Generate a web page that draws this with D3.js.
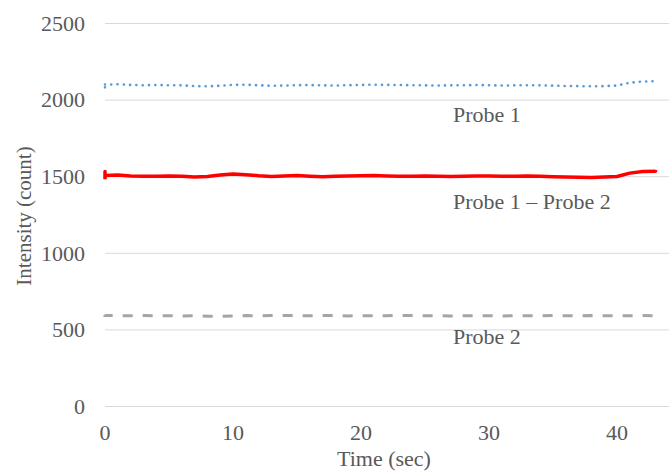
<!DOCTYPE html>
<html><head><meta charset="utf-8">
<script src="https://cdn.jsdelivr.net/npm/d3@7"></script>
<style>body{margin:0;background:#fff}</style>
</head><body><svg id="c" width="669" height="471"></svg>
<script>
const time = [0,0,0,1,2,3,4,5,6,7,8,9,10,11,12,13,14,15,16,17,18,19,20,21,22,23,24,25,26,27,28,29,30,31,32,33,34,35,36,37,38,39,40,41,42,43,43];
const probe1 = [2080,2110,2098,2100,2096,2094,2095,2094,2093,2088,2087,2090,2096,2097,2094,2090,2092,2094,2095,2093,2092,2094,2096,2097,2096,2095,2094,2093,2092,2093,2094,2095,2094,2092,2093,2094,2093,2091,2089,2088,2087,2088,2092,2110,2118,2120,2105];
const diff = [1480,1530,1505,1508,1502,1499,1500,1502,1500,1494,1498,1508,1515,1510,1503,1498,1502,1505,1500,1496,1499,1502,1503,1504,1502,1500,1499,1501,1500,1498,1500,1502,1501,1499,1500,1501,1499,1497,1495,1493,1492,1495,1498,1520,1530,1533,1540];
const probe2 = [585,595,590,590,589,590,588,589,588,590,586,585,588,590,589,590,591,590,589,591,590,588,589,590,589,591,590,589,590,588,589,590,589,587,590,589,588,590,589,588,590,589,588,589,590,588,592];
const yTicks = [0,500,1000,1500,2000,2500];
const xTicks = [0,10,20,30,40];
const labels = ["Probe 1","Probe 1 \u2013 Probe 2","Probe 2"];

const FONT = '"Liberation Serif"';
const svg = d3.select("#c");
const x = d3.scaleLinear().domain([0,44.06]).range([105,669]);
const y = d3.scaleLinear().domain([0,2500]).range([406,23]);

const txt = sel => sel.style("font-family",FONT).attr("fill","#595959");

svg.append("g").selectAll("line").data(yTicks).join("line")
  .attr("x1",x(0)).attr("x2",669).attr("y1",d=>y(d)+0.5).attr("y2",d=>y(d)+0.5)
  .attr("stroke","#d9d9d9").attr("stroke-width",1);

svg.append("g").selectAll("text").data(yTicks).join("text")
  .attr("x",85).attr("y",d=>y(d)).attr("dy","0.35em").attr("text-anchor","end")
  .attr("font-size",22).call(txt).text(d=>d);

svg.append("g").selectAll("text").data(xTicks).join("text")
  .attr("x",d=>x(d)).attr("y",440).attr("text-anchor","middle")
  .attr("font-size",22).call(txt).text(d=>d);

svg.append("text").attr("x",(x(0)+669)/2-3).attr("y",466).attr("text-anchor","middle")
  .attr("font-size",22).call(txt).text("Time (sec)");
svg.append("text").attr("transform","translate(31,216) rotate(-90)").attr("text-anchor","middle")
  .attr("font-size",21).call(txt).text("Intensity (count)");

const line = v => d3.line().x((d,i)=>x(time[i])).y(d=>y(d))(v);

svg.append("path").attr("d",line(probe2)).attr("fill","none")
  .attr("stroke","#a5a5a5").attr("stroke-width",3).attr("stroke-dasharray","10,10");
svg.append("path").attr("d",line(diff)).attr("fill","none")
  .attr("stroke","#ff0000").attr("stroke-width",3.5).attr("stroke-linejoin","round");
svg.append("path").attr("d",line(probe1)).attr("fill","none")
  .attr("stroke","#5b9bd5").attr("stroke-width",2.6).attr("stroke-linecap","round")
  .attr("stroke-dasharray","0.1,6.2");

const labelY = [122,209,344];
svg.append("g").selectAll("text").data(labels).join("text")
  .attr("x",453).attr("y",(d,i)=>labelY[i]).attr("font-size",22).call(txt).text(d=>d);
</script></body></html>
